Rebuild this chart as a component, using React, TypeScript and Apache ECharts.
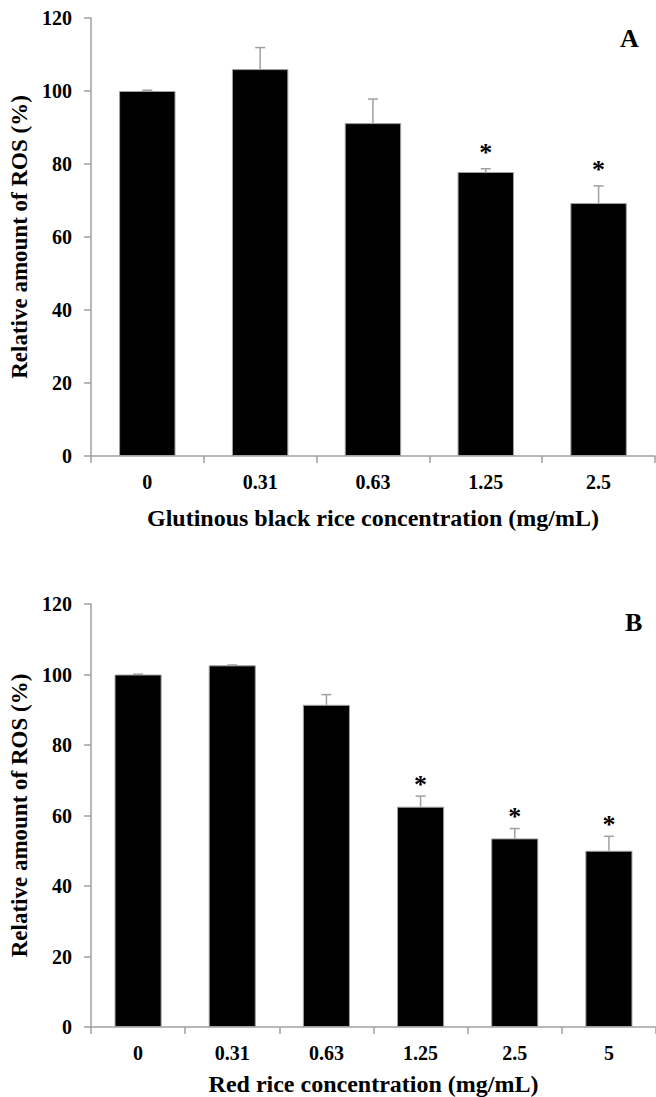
import React, { useEffect, useRef } from "react";
import * as echarts from "echarts";

const topCategories = ["0", "0.31", "0.63", "1.25", "2.5"];
const topMeans = [100, 106, 91.2, 77.8, 69.3];
const topErrors = [0.2, 5.9, 6.6, 0.9, 4.7];
const topSignificant = [false, false, false, true, true];

const bottomCategories = ["0", "0.31", "0.63", "1.25", "2.5", "5"];
const bottomMeans = [100, 102.6, 91.4, 62.5, 53.5, 50];
const bottomErrors = [0.1, 0.1, 2.9, 3.0, 2.8, 4.1];
const bottomSignificant = [false, false, false, true, true, true];

const yTicks = [0, 20, 40, 60, 80, 100, 120];

const FONT = "'Liberation Serif', 'Times New Roman', serif";
const GRAY = "#a0a0a0";

function errorSeries(
  gridIndex: number,
  means: number[],
  errors: number[],
  sig: boolean[],
  starGap: number
) {
  return {
    type: "custom",
    xAxisIndex: gridIndex,
    yAxisIndex: gridIndex,
    z: 5,
    data: means.map((m, i) => [i, m, errors[i], sig[i] ? 1 : 0]),
    renderItem: (params: any, api: any) => {
      const x = api.value(0);
      const m = api.value(1);
      const e = api.value(2);
      const s = api.value(3);
      const base = api.coord([x, m]);
      const top = api.coord([x, m + e]);
      const children: any[] = [
        {
          type: "line",
          shape: { x1: base[0], y1: base[1], x2: top[0], y2: top[1] },
          style: { stroke: GRAY, lineWidth: 1.5 },
        },
        {
          type: "line",
          shape: { x1: top[0] - 5, y1: top[1], x2: top[0] + 5, y2: top[1] },
          style: { stroke: GRAY, lineWidth: 1.5 },
        },
      ];
      if (s) {
        children.push({
          type: "text",
          style: {
            text: "*",
            x: top[0],
            y: top[1] - starGap,
            fill: "#000",
            font: `bold 26px ${FONT}`,
            align: "center",
            verticalAlign: "middle",
          },
        });
      }
      return { type: "group", children };
    },
  };
}

function axisPair(gridIndex: number, cats: string[], xName: string, xGap: number) {
  const x = {
    type: "category",
    gridIndex,
    data: cats,
    name: xName,
    nameLocation: "middle",
    nameGap: xGap,
    nameTextStyle: { fontFamily: FONT, fontWeight: "bold", fontSize: 24, color: "#000" },
    axisLine: { lineStyle: { color: GRAY, width: 1.5 } },
    axisTick: { show: true, length: 7, lineStyle: { color: GRAY, width: 1.5 } },
    axisLabel: { fontFamily: FONT, fontWeight: "bold", fontSize: 20, color: "#000", margin: 16 },
    splitLine: { show: false },
  };
  const y = {
    type: "value",
    gridIndex,
    min: 0,
    max: 120,
    interval: 20,
    name: "Relative amount of ROS (%)",
    nameLocation: "middle",
    nameGap: 56,
    nameTextStyle: { fontFamily: FONT, fontWeight: "bold", fontSize: 23, color: "#000" },
    axisLine: { show: true, lineStyle: { color: GRAY, width: 1.5 } },
    axisTick: { show: true, length: 7, lineStyle: { color: GRAY, width: 1.5 } },
    axisLabel: {
      fontFamily: FONT,
      fontWeight: "bold",
      fontSize: 20,
      color: "#000",
      margin: 19,
      formatter: (v: number) => (yTicks.includes(v) ? String(v) : ""),
    },
    splitLine: { show: false },
  };
  return { x, y };
}

export default function App() {
  const ref = useRef<HTMLDivElement>(null);
  useEffect(() => {
    document.body.style.margin = "0";
    const chart = echarts.init(ref.current!, undefined, { renderer: "svg" });
    const a = axisPair(0, topCategories, "Glutinous black rice concentration (mg/mL)", 50);
    const b = axisPair(1, bottomCategories, "Red rice concentration (mg/mL)", 45);
    chart.setOption({
      animation: false,
      backgroundColor: "#fff",
      grid: [
        { left: 90, top: 18, width: 565, height: 438 },
        { left: 91, top: 604, width: 574, height: 423 },
      ],
      xAxis: [a.x, b.x],
      yAxis: [a.y, b.y],
      series: [
        {
          type: "bar",
          xAxisIndex: 0,
          yAxisIndex: 0,
          data: topMeans,
          barWidth: "50%",
          itemStyle: { color: "#000", borderColor: GRAY, borderWidth: 1 },
        },
        errorSeries(0, topMeans, topErrors, topSignificant, 16),
        {
          type: "bar",
          xAxisIndex: 1,
          yAxisIndex: 1,
          data: bottomMeans,
          barWidth: "50%",
          itemStyle: { color: "#000", borderColor: GRAY, borderWidth: 1 },
        },
        errorSeries(1, bottomMeans, bottomErrors, bottomSignificant, 12),
      ],
      graphic: [
        {
          type: "text",
          left: 620,
          top: 25,
          style: { text: "A", font: `bold 26px ${FONT}`, fill: "#000" },
        },
        {
          type: "text",
          left: 625,
          top: 609,
          style: { text: "B", font: `bold 26px ${FONT}`, fill: "#000" },
        },
      ],
    });
    return () => chart.dispose();
  }, []);
  return (
    <div
      ref={ref}
      style={{ position: "absolute", left: 0, top: 0, width: 656, height: 1097, background: "#fff" }}
    />
  );
}
